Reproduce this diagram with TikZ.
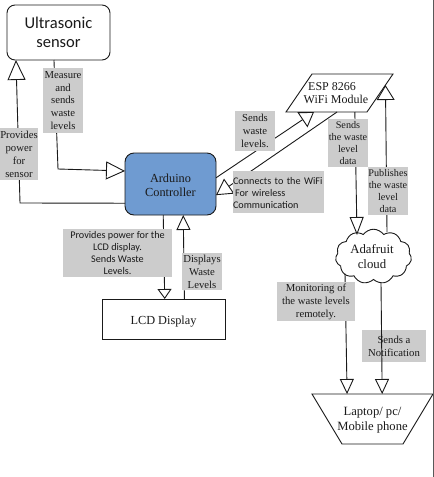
\documentclass[tikz,border=0pt]{standalone}
\usepackage{fontspec}
\setmainfont{Liberation Serif}
\newfontfamily\carl{Carlito}
\usetikzlibrary{arrows.meta,calc,shapes.symbols}
\definecolor{lab}{HTML}{CCCCCC}
\definecolor{ardblue}{HTML}{6F9BD1}
\definecolor{ink}{HTML}{1A1A1A}
\tikzset{
  x=1pt,y=-1pt,
  conn/.style={draw=ink,line width=0.9pt},
  outline/.style={draw=ink,line width=0.9pt,line join=miter},
  tipa/.style={-{Triangle[open,length=#1,fill=white,line width=0.9pt,width=18pt]}},
  tipb/.style={-{Triangle[open,length=#1,fill=white,line width=0.9pt,width=14pt]}},
  lbl/.style={fill=lab,inner sep=0pt,outer sep=0pt,align=center,text=ink,font=\fontsize{10.7}{12.9}\selectfont,execute at begin node={\rule{0pt}{10pt}}},
  box/.style={draw=ink,line width=0.9pt,outer sep=0pt,inner sep=0pt,align=center,text=ink},
  plain/.style={outer sep=0pt,inner sep=0pt,align=center,text=ink},
}
\begin{document}
\begin{tikzpicture}
\useasboundingbox (0,0) rectangle (434,477);
\fill[white] (0,0) rectangle (434,477);
% shapes
\node[box,rounded corners=8pt,minimum width=103pt,minimum height=55pt,font=\carl\fontsize{16.5}{19}\selectfont] (us) at (58.5,32.5) {Ultrasonic\\sensor};
\node[box,rounded corners=9pt,fill=ardblue,minimum width=91pt,minimum height=62pt,font=\fontsize{12.3}{14.5}\selectfont] (ard) at (170.5,184) {\rule{0pt}{11pt}Arduino\\Controller};
\node[box,minimum width=123pt,minimum height=40pt,font=\fontsize{12.3}{15}\selectfont,text height=11pt,text depth=0pt] (lcd) at (163.5,319) {LCD Display};
% parallelogram: frame node plus its outline
\node[plain,minimum width=107pt,minimum height=38pt,align=left,font=\fontsize{12}{13.3}\selectfont] (esp) at (339.5,93) {\hspace*{4.5pt}ESP 8266\\WiFi Module\hspace*{7pt}};
\coordinate (espTL) at ($(esp.north west)+(26,0)$);
\coordinate (espBR) at ($(esp.south east)+(-26,0)$);
\draw[outline] (esp.south west) -- (espTL) -- (esp.north east) -- (espBR) -- cycle;
\node[box,cloud,cloud puffs=11,cloud puff arc=110,aspect=1.4,minimum width=76pt,minimum height=54pt,font=\fontsize{12.8}{14.5}\selectfont] (cl) at (373.5,256.5) {Adafruit\hspace*{3pt}\\cloud\hspace*{3pt}};
% trapezoid: frame node plus its outline
\node[plain,minimum width=121pt,minimum height=50pt,font=\fontsize{12.6}{15}\selectfont] (pc) at (372.5,419) {\rule{0pt}{11pt}Laptop/ pc/\\Mobile phone};
\coordinate (pcBL) at ($(pc.south west)+(30,0)$);
\coordinate (pcBR) at ($(pc.south east)+(-30,0)$);
\draw[outline] (pc.north west) -- (pc.north east) -- (pcBR) -- (pcBL) -- cycle;
% free bends of connectors
\coordinate (bendA) at (20,203);
\coordinate (bendB) at (58,169);
% connectors
\draw[conn,tipa=20pt] ($(ard.south west)!0.19!(ard.north west)$) -- (bendA) -- ($(us.south west)!0.087!(us.south east)$);
\draw[conn,tipa=19pt] ($(us.south west)!0.456!(us.south east)$) -- (bendB) -- ($(ard.north west)!0.29!(ard.south west)$);
\draw[conn,tipa=14pt] ($(ard.north east)!0.40!(ard.south east)$) -- ($(esp.south west)!0.346!(espBR)$);
\draw[conn,tipa=16pt] ($(esp.south west)!0.63!(espBR)$) -- ($(ard.north east)!0.68!(ard.south east)$);
\draw[conn,tipb=18pt] ($(esp.south west)!0.85!(espBR)$) -- ($(cl.center)+(-16.5,-21.5)$);
\draw[conn,tipa=15pt] ($(cl.center)+(13.5,-24.5)$) -- ($(esp.north east)!0.29!(espBR)$);
\draw[conn,tipb=10pt] ($(ard.south west)!0.42!(ard.south east)$) -- ($(lcd.north west)!0.51!(lcd.north east)$);
\draw[conn,tipb=15pt] ($(lcd.north west)!0.67!(lcd.north east)$) -- ($(ard.south west)!0.64!(ard.south east)$);
\draw[conn,tipb=15pt] ($(cl.center)+(-28.5,17)$) -- ($(pc.north west)!0.29!(pc.north east)$);
% labels
\node[lbl,minimum width=40pt,minimum height=65pt] (l1) at (63,100.5) {Measure\\and\\sends\\waste\\levels};
\node[lbl,minimum width=38pt,minimum height=52pt] (l2) at (19,154) {Provides\\power\\for\\sensor};
\node[lbl,minimum width=40pt,minimum height=40pt] (l3) at (255,131) {Sends\\waste\\levels.};
\node[lbl,minimum width=91pt,minimum height=42pt,align=left,font=\carl\fontsize{10.2}{12}\selectfont,text width=91pt] (l4) at (278.5,192) {Connects to the WiFi\\\hspace*{2pt}For wireless\\Communication};
\node[lbl,minimum width=40pt,minimum height=48pt,font=\fontsize{10.2}{12}\selectfont] (l5) at (348,143) {Sends\\the waste\\level\\data};
\node[lbl,minimum width=40pt,minimum height=48pt,font=\fontsize{10.2}{12}\selectfont] (l6) at (388,191) {Publishes\\the waste\\level\\data};
\node[lbl,minimum width=109pt,minimum height=48pt,font=\carl\fontsize{10.2}{12.2}\selectfont] (l7) at (117.5,253) {Provides power for the\\LCD display.\\Sends Waste\\Levels.};
\node[lbl,minimum width=40pt,minimum height=37pt] (l8) at (202,271.5) {Displays\\Waste\\Levels};
\node[lbl,minimum width=78pt,minimum height=39pt] (l9) at (316,301.5) {Monitoring of\\the waste levels\\remotely.};
\node[lbl,minimum width=64pt,minimum height=32pt] (l10) at (394,346) {Sends a\\Notification};
% drawn above its label
\draw[conn,tipb=15pt] ($(cl.center)+(7.5,26)$) -- ($(pc.north west)!0.58!(pc.north east)$);
\draw[draw=black!65,line width=1pt] (433.5,0) -- (433.5,477);
\end{tikzpicture}
\end{document}
